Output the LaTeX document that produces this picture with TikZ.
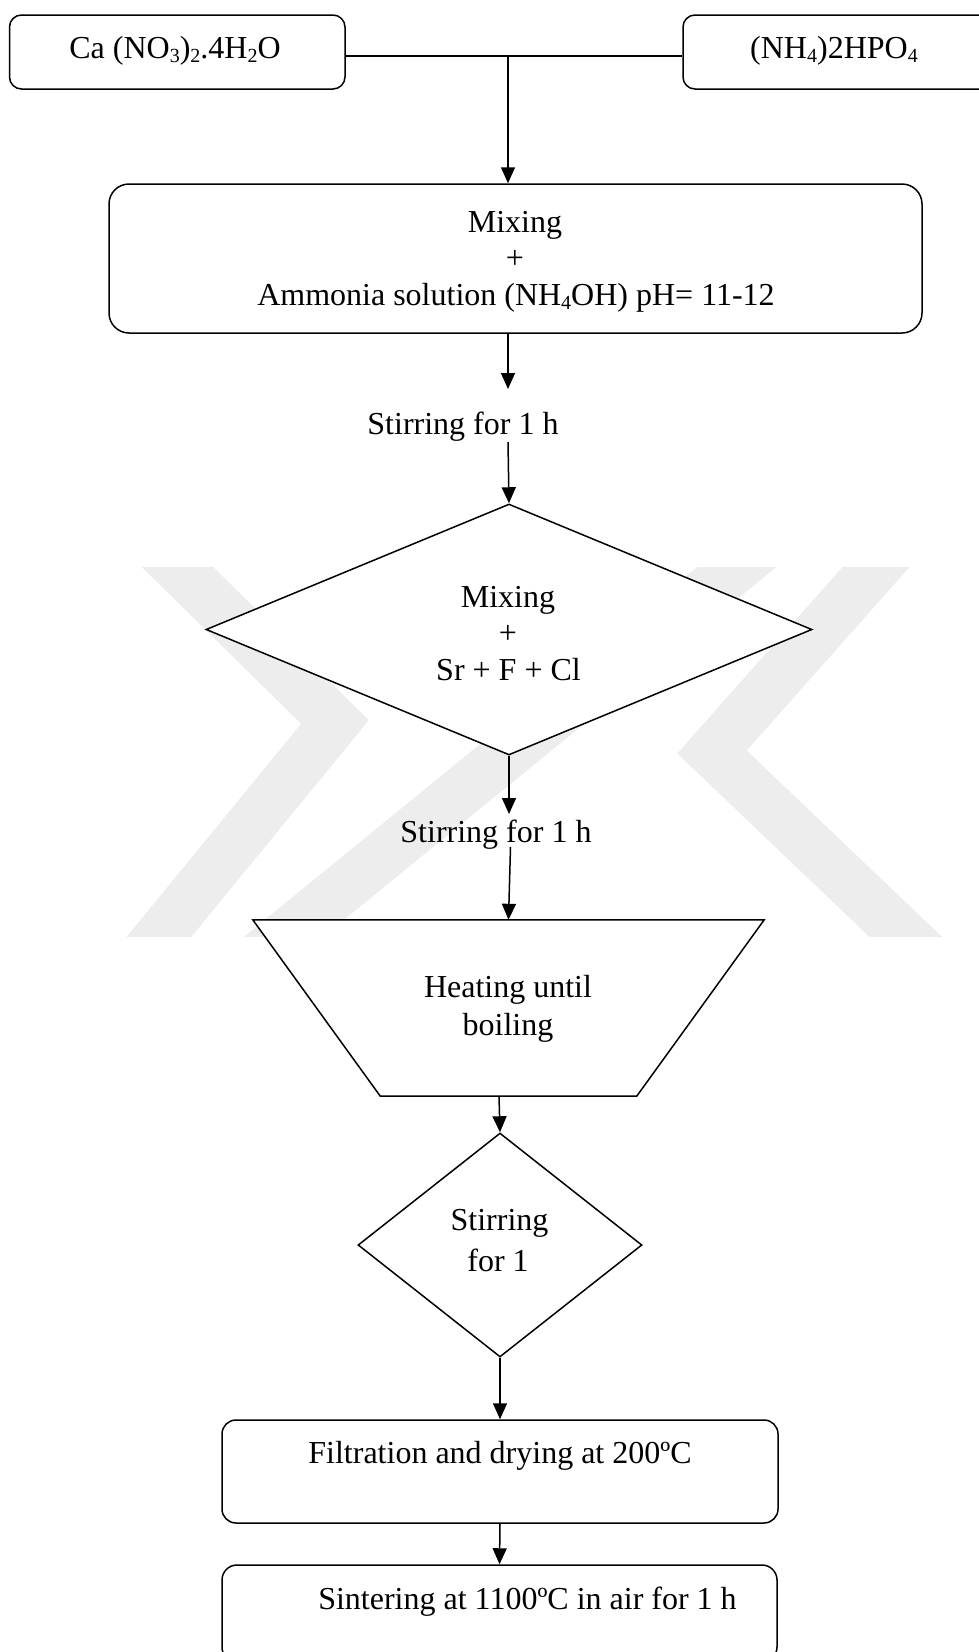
\documentclass[tikz,border=0pt]{standalone}
\usepackage{fontspec}
\setmainfont{Liberation Serif}
\usetikzlibrary{arrows.meta,shapes.geometric,calc}
\definecolor{wm}{HTML}{EDEDED}
\newcommand\lowsub[1]{\raisebox{-4.5pt}{\fontsize{20}{20}\selectfont #1}}
\tikzset{
  box/.style={draw, fill=white, line width=1.5pt, rounded corners=#1, inner sep=0pt},
  shp/.style={draw, fill=white, line width=1.5pt, inner sep=0pt},
  ghost/.style={inner sep=0pt},
  txt/.style={inner sep=0pt, anchor=base, font=\fontsize{32}{37}\selectfont},
  arr/.style={line width=1.5pt, -{Triangle[length=16pt,width=14pt]}},
  ln/.style={line width=1.5pt},
  wmark/.style={line width=50pt, draw=wm, line join=miter}
}
\begin{document}
\begin{tikzpicture}[x=1pt,y=-1pt]
\clip (0,0) rectangle (979,1652);
\fill[white] (0,0) rectangle (979,1652);
% watermark
\begin{scope}
\clip (0,567) rectangle (979,936);
\draw[wmark] (150,540) -- (335,722) -- (140,960);
\draw[wmark] (770,540) -- (255,960);
\draw[wmark] (900,540) -- (712,752) -- (930,960);
\end{scope}
% shapes
\node[box=12pt, minimum width=335.5pt, minimum height=74pt] (lb) at (177.25,52) {};
\node[box=12pt, minimum width=327pt, minimum height=74pt] (rb) at (846.5,52) {};
\node[box=20pt, minimum width=813pt, minimum height=149pt] (mx) at (515.5,258.5) {};
\node[shp, diamond, minimum width=606pt, minimum height=251pt] (d1) at (509,629.5) {};
\node[ghost, minimum width=511pt, minimum height=176pt] (tz) at (508.5,1008) {};
\draw[ln, fill=white] (tz.north west) -- (tz.north east) -- ($(tz.south east)+(-127.5,0)$) -- ($(tz.south west)+(127.5,0)$) -- cycle;
\node[shp, diamond, minimum width=284pt, minimum height=224pt] (d2) at (500,1245) {};
\node[box=14pt, minimum width=556pt, minimum height=103pt] (fb) at (500,1471.5) {};
\node[box=15pt, minimum width=555pt, minimum height=97pt] (sb) at (499.5,1613.5) {};
% texts
\node[txt] (tlb) at (175,58) {Ca (NO\lowsub{3})\lowsub{2}.4H\lowsub{2}O};
\node[txt] (trb) at (834,58) {(NH\lowsub{4})2HPO\lowsub{4}};
\node[txt] (tm1) at (515,232) {Mixing};
\node[txt] (tm2) at (515,268.5) {+};
\node[txt] (tm3) at (516,305) {Ammonia solution (NH\lowsub{4}OH) pH= 11-12};
\node[txt] (s1) at (463,434) {Stirring for 1 h};
\node[txt] (td1) at (508,607) {Mixing};
\node[txt] (td2) at (508,643.5) {+};
\node[txt] (td3) at (508.5,680) {Sr + F + Cl};
\node[txt] (s2) at (496,842) {Stirring for 1 h};
\node[txt] (tt1) at (508,997) {Heating until};
\node[txt] (tt2) at (508,1035) {boiling};
\node[txt] (tq1) at (499.5,1230) {Stirring};
\node[txt] (tq2) at (498,1271) {for 1};
\node[txt] (tf) at (500,1463) {Filtration and drying at 200ºC};
\node[txt] (ts) at (527.5,1609) {Sintering at 1100ºC in air for 1 h};
% connectors
\coordinate (j) at (508,56);
\coordinate (a1e) at (508,389);
\coordinate (a2s) at (508,442);
\coordinate (a3e) at (509,814);
\coordinate (a4s) at (510.5,847);
\draw[ln] (lb.east |- j) -- (rb.west |- j);
\draw[arr] (j) -- (j |- mx.north);
\draw[arr] (mx.south -| j) -- (a1e);
\draw[arr] (a2s) -- (d1.north);
\draw[arr] (d1.south) -- (a3e);
\draw[arr] (a4s) -- (tz.north);
\draw[arr] ([xshift=-9.5pt]tz.south) -- (d2.north);
\draw[arr] (d2.south) -- (fb.north);
\draw[arr] (fb.south) -- (sb.north);
\end{tikzpicture}
\end{document}
